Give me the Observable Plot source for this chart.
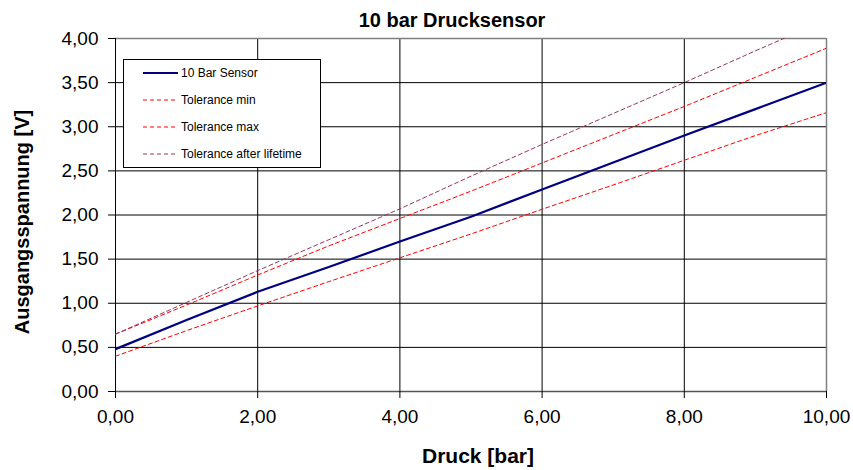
<!DOCTYPE html>
<html>
<head>
<meta charset="utf-8">
<script src="https://cdn.jsdelivr.net/npm/d3@7"></script>
<script src="https://cdn.jsdelivr.net/npm/@observablehq/plot@0.6"></script>
<style>
  body { margin: 0; background: #fff; font-family: "Liberation Sans", Arial, sans-serif; }
  #wrap { position: relative; width: 853px; height: 470px; }
  #legend { position: absolute; left: 123px; top: 59px; width: 196px; height: 107px;
            border: 1px solid #000; background: #fff; font-size: 12px; }
  .row { position: absolute; left: 0; height: 14px; display: flex; align-items: center; white-space: nowrap; }
  .row svg { margin-left: 19px; margin-right: 3px; }
</style>
</head>
<body>
<div id="wrap"></div>
<script>
const pressure = [0, 1, 2, 3, 4, 5, 6, 7, 8, 9, 10];
const sensor   = [0.48, 0.81, 1.13, 1.41, 1.70, 1.98, 2.29, 2.595, 2.90, 3.20, 3.50];
const tolMin   = [0.40, 0.69, 0.97, 1.245, 1.515, 1.785, 2.065, 2.34, 2.62, 2.90, 3.16];
const tolMax   = [0.65, 0.98, 1.32, 1.65, 1.96, 2.27, 2.59, 2.91, 3.23, 3.56, 3.89];
const tolLife  = [0.65, 1.01, 1.37, 1.72, 2.07, 2.44, 2.80, 3.15, 3.50, 3.86, 4.21];
const xTicks = [0, 2, 4, 6, 8, 10];
const yTicks = [0, 0.5, 1, 1.5, 2, 2.5, 3, 3.5, 4];
const seriesNames = ["10 Bar Sensor", "Tolerance min", "Tolerance max", "Tolerance after lifetime"];
const seriesColors = ["#000080", "#ff0000", "#ff0000", "#993366"];

const toRows = (vals) => pressure.map((p, i) => ({p, v: vals[i]}));
const fmt = d => d.toFixed(2).replace(".", ",");

const chart = Plot.plot({
  width: 853,
  height: 470,
  marginLeft: 115,
  marginRight: 27,
  marginTop: 38,
  marginBottom: 79,
  style: {fontFamily: "'Liberation Sans', Arial, sans-serif", fontSize: "19px", background: "#fff", color: "#000"},
  x: {domain: [0, 10], ticks: xTicks},
  y: {domain: [0, 4], ticks: yTicks},
  marks: [
    Plot.gridX(xTicks.slice(1, -1), {stroke: "#000", strokeOpacity: 1}),
    Plot.gridY(yTicks.slice(1, -1), {stroke: "#000", strokeOpacity: 1}),
    Plot.ruleY([4], {stroke: "#808080", strokeWidth: 1.5}),
    Plot.ruleX([10], {stroke: "#808080", strokeWidth: 1.5}),
    Plot.ruleY([0], {stroke: "#555", strokeWidth: 1.5}),
    Plot.ruleX([0], {stroke: "#000"}),
    Plot.axisX(xTicks, {tickSize: 7, tickPadding: 11, tickFormat: fmt, label: null, fontSize: 19}),
    Plot.axisY(yTicks, {tickSize: 7, tickPadding: 10, tickFormat: fmt, label: null, fontSize: 19}),
    Plot.line(toRows(tolMin),  {x: "p", y: "v", stroke: seriesColors[1], strokeWidth: 1, strokeDasharray: "4,3", clip: true}),
    Plot.line(toRows(tolMax),  {x: "p", y: "v", stroke: seriesColors[2], strokeWidth: 1, strokeDasharray: "4,3", clip: true}),
    Plot.line(toRows(tolLife), {x: "p", y: "v", stroke: seriesColors[3], strokeWidth: 1, strokeDasharray: "4,3", clip: true}),
    Plot.line(toRows(sensor),  {x: "p", y: "v", stroke: seriesColors[0], strokeWidth: 2.2, clip: true}),
    Plot.text(["10 bar Drucksensor"], {frameAnchor: "top", dx: -19, dy: -18, fontWeight: "bold", fontSize: 20, lineAnchor: "middle"}),
    Plot.text(["Druck [bar]"], {frameAnchor: "bottom", dx: 7, dy: 65, fontWeight: "bold", fontSize: 21, lineAnchor: "middle"}),
    Plot.text(["Ausgangsspannung [V]"], {frameAnchor: "left", dx: -93, dy: 7, rotate: -90, fontWeight: "bold", fontSize: 20, textAnchor: "middle", lineAnchor: "middle"})
  ]
});

const wrap = document.getElementById("wrap");
wrap.appendChild(chart);

const legend = document.createElement("div");
legend.id = "legend";
const rowTops = [6, 33, 60, 87];
seriesNames.forEach((name, i) => {
  const row = document.createElement("div");
  row.className = "row";
  row.style.top = rowTops[i] + "px";
  const dash = i === 0 ? "" : 'stroke-dasharray="4,3"';
  const w = i === 0 ? 2 : 1;
  row.innerHTML = `<svg width="35" height="8"><line x1="0" y1="4" x2="35" y2="4" stroke="${seriesColors[i]}" stroke-width="${w}" ${dash}/></svg><span>${name}</span>`;
  legend.appendChild(row);
});
wrap.appendChild(legend);
</script>
</body>
</html>
